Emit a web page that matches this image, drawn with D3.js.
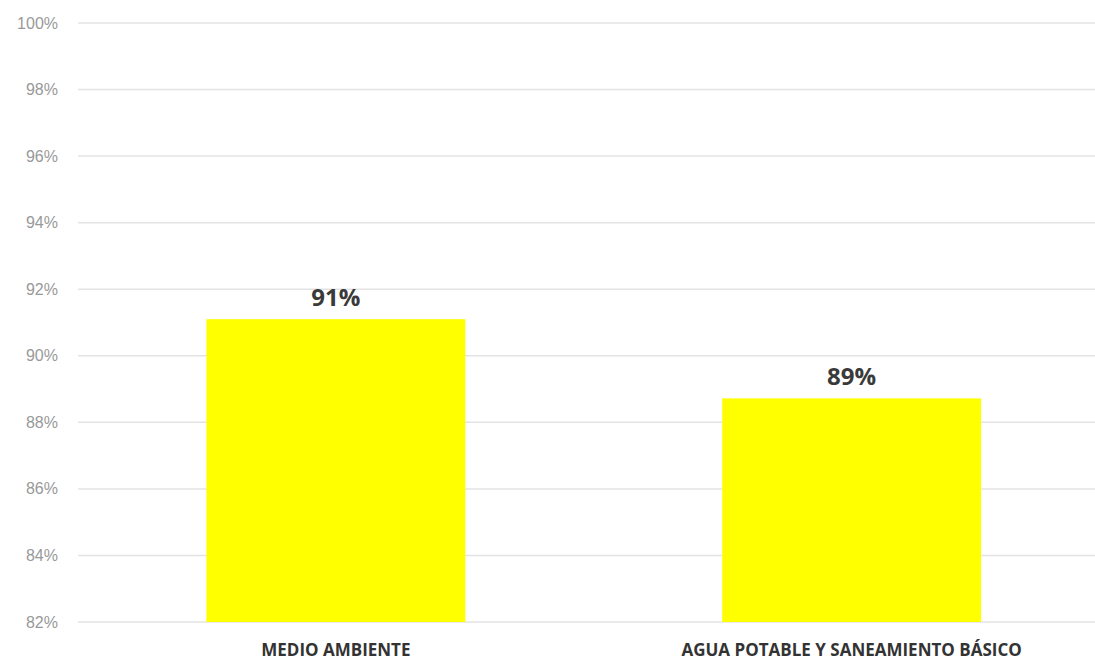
<!DOCTYPE html>
<html><head><meta charset="utf-8">
<script src="https://cdn.jsdelivr.net/npm/d3@7"></script>
<style>body{margin:0;background:#fff;}svg{display:block;}</style>
</head><body>
<svg id="c" width="1095" height="660"></svg>
<script>
const categories = ["MEDIO AMBIENTE", "AGUA POTABLE Y SANEAMIENTO BÁSICO"];
const values = [91.1, 88.72];
const valueLabels = ["91%", "89%"];
const yTicks = [82, 84, 86, 88, 90, 92, 94, 96, 98, 100];

(function () {
const svg = d3.select("#c");
const mLeft = 78, mRight = 1109.5, mTop = 23, mBottom = 622;
const x = d3.scaleBand().domain(categories).range([mLeft, mRight]).paddingInner(0.498).paddingOuter(0.249);
const y = d3.scaleLinear().domain([82, 100]).range([mBottom, mTop]);

svg.append("g").selectAll("line").data(yTicks).join("line")
  .attr("x1", mLeft).attr("x2", 1095)
  .attr("y1", d => y(d)).attr("y2", d => y(d))
  .attr("stroke", "#e3e3e3").attr("stroke-width", 1.5);

svg.append("g").selectAll("text").data(yTicks).join("text")
  .attr("x", 58).attr("y", d => y(d)).attr("dy", "0.35em")
  .attr("text-anchor", "end")
  .attr("font-family", "Liberation Sans, Arial, sans-serif")
  .attr("font-size", 16).attr("fill", "#999")
  .text(d => d + "%");

svg.append("g").selectAll("rect").data(values).join("rect")
  .attr("x", (d, i) => x(categories[i]))
  .attr("width", x.bandwidth())
  .attr("y", d => y(d))
  .attr("height", d => y(82) - y(d))
  .attr("fill", "#ffff00");

svg.append("g").selectAll("text").data(values).join("text")
  .attr("x", (d, i) => x(categories[i]) + x.bandwidth() / 2)
  .attr("y", d => y(d) - 13)
  .attr("text-anchor", "middle")
  .attr("font-family", "Open Sans, Liberation Sans, sans-serif")
  .attr("font-weight", "bold").attr("font-size", 24).attr("fill", "#3a3a3a")
  .text((d, i) => valueLabels[i]);

svg.append("g").selectAll("text").data(categories).join("text")
  .attr("x", d => x(d) + x.bandwidth() / 2)
  .attr("y", 656)
  .attr("text-anchor", "middle")
  .attr("font-family", "Open Sans, Liberation Sans, sans-serif")
  .attr("font-weight", "bold").attr("font-size", 17).attr("fill", "#333")
  .text(d => d);
})();
</script>
</body></html>
